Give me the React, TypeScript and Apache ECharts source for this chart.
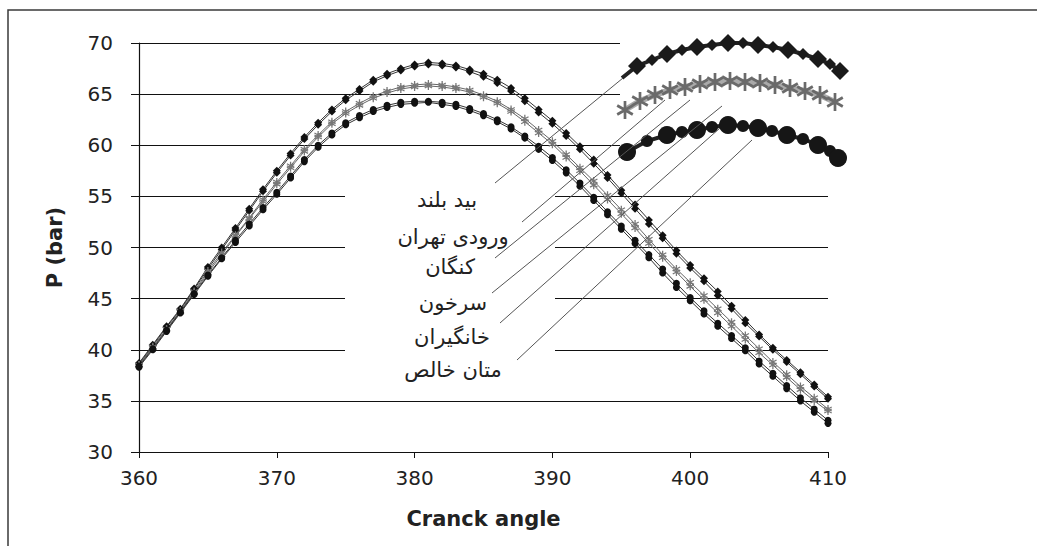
import React, { useEffect, useRef } from "react";
import * as echarts from "echarts";

const crankAngles = [
  360, 361, 362, 363, 364, 365, 366, 367, 368, 369,
  370, 371, 372, 373, 374, 375, 376, 377, 378, 379,
  380, 381, 382, 383, 384, 385, 386, 387, 388, 389,
  390, 391, 392, 393, 394, 395, 396, 397, 398, 399,
  400, 401, 402, 403, 404, 405, 406, 407, 408, 409, 410,
];

const seriesNames = ["بید بلند", "ورودی تهران", "کنگان", "سرخون", "خانگیران", "متان خالص"];

const bidBoland = [
  38.7, 40.5, 42.3, 44.0, 46.0, 48.1, 50.0, 51.9, 53.8, 55.7,
  57.5, 59.2, 60.8, 62.2, 63.5, 64.6, 65.5, 66.4, 67.0, 67.5,
  67.9, 68.1, 68.0, 67.8, 67.4, 67.0, 66.4, 65.6, 64.6, 63.5,
  62.4, 61.2, 59.9, 58.6, 57.1, 55.6, 54.2, 52.7, 51.2, 49.7,
  48.3, 47.0, 45.7, 44.3, 42.9, 41.5, 40.2, 39.0, 37.8, 36.6, 35.4,
];
const vorudiTehran = [
  38.6, 40.4, 42.2, 43.9, 45.9, 47.9, 49.8, 51.7, 53.6, 55.5,
  57.3, 59.0, 60.6, 62.0, 63.3, 64.4, 65.3, 66.2, 66.8, 67.3,
  67.7, 67.9, 67.8, 67.6, 67.2, 66.7, 66.1, 65.3, 64.3, 63.2,
  62.1, 60.9, 59.6, 58.2, 56.8, 55.3, 53.8, 52.3, 50.9, 49.4,
  48.0, 46.7, 45.3, 44.0, 42.6, 41.3, 40.0, 38.8, 37.6, 36.4, 35.2,
];
const kangan = [
  38.5, 40.3, 42.0, 43.8, 45.7, 47.7, 49.5, 51.2, 52.9, 54.7,
  56.4, 58.0, 59.6, 61.0, 62.3, 63.3, 64.1, 64.8, 65.3, 65.7,
  65.9, 66.0, 65.9, 65.7, 65.4, 64.9, 64.3, 63.5, 62.6, 61.5,
  60.4, 59.1, 57.8, 56.5, 55.1, 53.7, 52.3, 50.8, 49.3, 47.9,
  46.6, 45.3, 44.0, 42.7, 41.4, 40.1, 38.8, 37.6, 36.4, 35.3, 34.2,
];
const sarkhun = [
  38.5, 40.2, 42.0, 43.7, 45.6, 47.5, 49.3, 51.1, 52.8, 54.5,
  56.2, 57.8, 59.4, 60.8, 62.1, 63.1, 63.9, 64.6, 65.1, 65.5,
  65.7, 65.8, 65.7, 65.5, 65.2, 64.7, 64.1, 63.3, 62.3, 61.2,
  60.1, 58.8, 57.5, 56.1, 54.7, 53.3, 51.9, 50.4, 49.0, 47.6,
  46.2, 44.9, 43.6, 42.3, 41.0, 39.7, 38.5, 37.3, 36.1, 35.0, 34.0,
];
const khangiran = [
  38.3, 40.0, 41.8, 43.6, 45.4, 47.2, 48.9, 50.5, 52.1, 53.7,
  55.2, 56.8, 58.4, 59.8, 61.0, 62.0, 62.7, 63.3, 63.7, 64.0,
  64.1, 64.2, 64.0, 63.8, 63.4, 62.9, 62.3, 61.6, 60.7, 59.6,
  58.5, 57.3, 56.0, 54.6, 53.2, 51.8, 50.4, 49.0, 47.5, 46.1,
  44.8, 43.5, 42.3, 41.1, 39.9, 38.6, 37.4, 36.2, 35.0, 33.9, 32.8,
];
const metanKhales = [
  38.4, 40.1, 41.9, 43.7, 45.5, 47.3, 49.0, 50.7, 52.3, 53.9,
  55.4, 57.0, 58.6, 60.0, 61.2, 62.2, 62.9, 63.5, 63.9, 64.2,
  64.3, 64.3, 64.2, 64.0, 63.6, 63.1, 62.5, 61.8, 60.9, 59.9,
  58.8, 57.6, 56.3, 54.9, 53.5, 52.1, 50.7, 49.3, 47.9, 46.5,
  45.1, 43.8, 42.6, 41.4, 40.2, 38.9, 37.7, 36.5, 35.3, 34.2, 33.1,
];

const seriesValues = [bidBoland, vorudiTehran, kangan, sarkhun, khangiran, metanKhales];

const yTicks = { min: 30, max: 70, step: 5 };
const xTicks = { min: 360, max: 410, step: 10 };

const ASTERISK_D =
  "M85,0L115,0L115,200L85,200Z M179.1,37L194.1,63L20.9,163L5.9,137Z M5.9,63L20.9,37L194.1,137L179.1,163Z";

let registered = false;
function ensureShapes() {
  if (registered) return;
  registered = true;
  echarts.graphic.registerShape("asterisk", echarts.graphic.extendPath(ASTERISK_D, {}));
}

// legend sample rows (decoration)
const diamondRow = [
  [622, 78], [637, 66], [652, 60], [667, 54], [682, 50], [697, 47], [712, 45], [728, 43],
  [743, 43], [758, 45], [773, 47], [788, 50], [803, 54], [818, 59], [830, 64], [840, 71],
];
const asteriskRow = [
  [625, 110], [640, 101], [655, 95], [670, 90], [685, 87], [700, 84], [715, 82], [730, 81],
  [745, 82], [760, 83], [775, 85], [790, 88], [805, 91], [820, 95], [835, 102],
];
const circleRow = [
  [627, 152], [647, 141], [667, 135], [682, 132], [697, 130], [712, 127], [728, 125], [743, 126],
  [758, 128], [772, 131], [787, 135], [803, 139], [818, 145], [830, 151], [838, 158],
];

const leaderLines = [
  [495, 183, 623, 78],
  [522, 222, 665, 100],
  [495, 258, 690, 100],
  [492, 293, 722, 106],
  [500, 323, 720, 128],
  [517, 360, 752, 140],
];
const labelPos = [
  [447, 200],
  [453, 237],
  [450, 267],
  [453, 303],
  [452, 337],
  [453, 370],
];

const LABEL_FONT = '"DejaVu Sans", "Noto Sans", sans-serif';

function buildGraphic() {
  const g: any[] = [];
  g.push({
    type: "rect",
    shape: { x: 8, y: 10, width: 1100, height: 600 },
    style: { fill: "none", stroke: "#3a3a3a", lineWidth: 1.5 },
    z: 0,
    silent: true,
  });
  // legend boxes (white, hide gridlines)
  g.push({ type: "rect", shape: { x: 620, y: 28, width: 230, height: 147 }, style: { fill: "#fff" }, z: 1, silent: true });
  g.push({ type: "rect", shape: { x: 345, y: 172, width: 210, height: 216 }, style: { fill: "#fff" }, z: 1, silent: true });

  // diamond row
  g.push({
    type: "polyline",
    shape: { points: diamondRow },
    style: { stroke: "#222", lineWidth: 4, fill: "none" },
    z: 10,
  });
  diamondRow.forEach(([x, y], i) => {
    if (i === 0) return;
    const s = i % 2 === 1 ? 9 : 6;
    g.push({
      type: "polygon",
      shape: { points: [[x, y - s], [x + s, y], [x, y + s], [x - s, y]] },
      style: { fill: "#1a1a1a" },
      z: 11,
    });
  });
  // asterisk row
  g.push({
    type: "polyline",
    shape: { points: asteriskRow },
    style: { stroke: "#aaa", lineWidth: 6, fill: "none" },
    z: 10,
  });
  asteriskRow.forEach(([x, y]) => {
    g.push({
      type: "asterisk",
      x: x - 9,
      y: y - 9,
      scaleX: 0.09,
      scaleY: 0.09,
      style: { fill: "#6a6a6a" },
      z: 11,
    });
  });
  // circle row
  g.push({
    type: "polyline",
    shape: { points: circleRow },
    style: { stroke: "#222", lineWidth: 4, fill: "none" },
    z: 10,
  });
  circleRow.forEach(([x, y], i) => {
    const r = i % 2 === 0 ? 9 : 6;
    g.push({ type: "circle", shape: { cx: x, cy: y, r }, style: { fill: "#161616" }, z: 11 });
  });

  leaderLines.forEach(([x1, y1, x2, y2]) => {
    g.push({
      type: "line",
      shape: { x1, y1, x2, y2 },
      style: { stroke: "#555", lineWidth: 1 },
      z: 12,
    });
  });
  seriesNames.forEach((name, i) => {
    g.push({
      type: "text",
      x: labelPos[i][0],
      y: labelPos[i][1],
      style: {
        text: name,
        font: `21px ${LABEL_FONT}`,
        fill: "#222",
        align: "center",
        verticalAlign: "middle",
      },
      z: 12,
    });
  });
  return g;
}

const markerFor = (i: number) => {
  if (i < 2) return { symbol: "diamond", size: 8, color: "#111", line: "#333" };
  if (i < 4) return { symbol: "path://" + ASTERISK_D, size: 8, color: "#777", line: "#666" };
  return { symbol: "circle", size: 7, color: "#111", line: "#333" };
};

export default function App() {
  const ref = useRef<HTMLDivElement>(null);
  useEffect(() => {
    if (!ref.current) return;
    ensureShapes();
    const chart = echarts.init(ref.current, undefined, { renderer: "svg" });
    const axisFont = '"DejaVu Sans", sans-serif';
    chart.setOption({
      animation: false,
      backgroundColor: "#fff",
      grid: { left: 139, top: 43, right: 209, bottom: 94, containLabel: false },
      legend: { show: false },
      xAxis: {
        type: "value",
        min: xTicks.min,
        max: xTicks.max,
        interval: xTicks.step,
        name: "Cranck angle",
        nameLocation: "middle",
        nameGap: 56,
        nameTextStyle: { fontFamily: axisFont, fontWeight: "bold", fontSize: 21, color: "#222" },
        axisLine: { lineStyle: { color: "#111", width: 1.2 } },
        axisTick: { show: true, length: 6, lineStyle: { color: "#111" } },
        axisLabel: { fontFamily: axisFont, fontSize: 20, color: "#222", margin: 16 },
        splitLine: { show: false },
      },
      yAxis: {
        type: "value",
        min: yTicks.min,
        max: yTicks.max,
        interval: yTicks.step,
        name: "P (bar)",
        nameLocation: "middle",
        nameGap: 74,
        nameRotate: 90,
        nameTextStyle: { fontFamily: axisFont, fontWeight: "bold", fontSize: 21, color: "#222" },
        axisLine: { show: true, lineStyle: { color: "#111", width: 1.2 } },
        axisTick: { show: true, length: 8, lineStyle: { color: "#111" } },
        axisLabel: { fontFamily: axisFont, fontSize: 20, color: "#222", margin: 26 },
        splitLine: { show: true, lineStyle: { color: "#111", width: 1.2 } },
      },
      graphic: buildGraphic(),
      series: seriesValues.map((vals, i) => {
        const m = markerFor(i);
        return {
          type: "line",
          name: seriesNames[i],
          data: crankAngles.map((a, k) => [a, vals[k]]),
          symbol: m.symbol,
          symbolSize: m.size,
          showSymbol: true,
          showAllSymbol: true,
          lineStyle: { color: m.line, width: 1 },
          itemStyle: { color: m.color },
          silent: true,
          z: 3,
          emphasis: { disabled: true },
        };
      }),
    });
    return () => chart.dispose();
  }, []);
  return (
    <div
      ref={ref}
      style={{ position: "absolute", left: 0, top: 0, width: 1037, height: 546, background: "#fff" }}
    />
  );
}
